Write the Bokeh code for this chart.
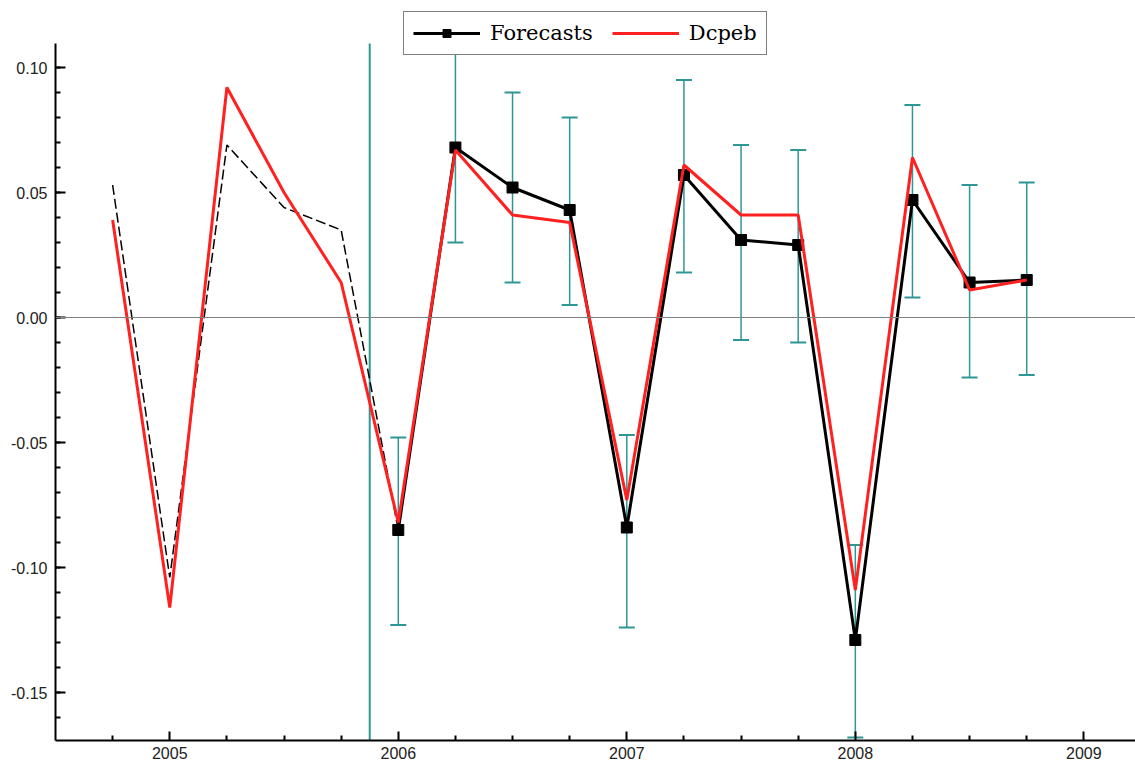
from bokeh.plotting import figure
from bokeh.models import (Range1d, FixedTicker, NumeralTickFormatter, Legend, LegendItem,
                          Whisker, ColumnDataSource, TeeHead, Span)
from bokeh.embed import file_html
from bokeh.resources import INLINE

# ---- data (quarterly, decimal years) ----
actual_x = [2004.75, 2005.0, 2005.25, 2005.5, 2005.75, 2006.0, 2006.25, 2006.5, 2006.75,
            2007.0, 2007.25, 2007.5, 2007.75, 2008.0, 2008.25, 2008.5, 2008.75]
dcpeb = [0.039, -0.116, 0.092, 0.050, 0.014, -0.082, 0.067, 0.041, 0.038,
         -0.073, 0.061, 0.041, 0.041, -0.109, 0.064, 0.011, 0.015]

fitted_x = [2004.75, 2005.0, 2005.25, 2005.5, 2005.75, 2006.0]
fitted = [0.053, -0.104, 0.069, 0.044, 0.035, -0.085]

forecast_x = [2006.0, 2006.25, 2006.5, 2006.75, 2007.0, 2007.25, 2007.5, 2007.75,
              2008.0, 2008.25, 2008.5, 2008.75]
forecasts = [-0.085, 0.068, 0.052, 0.043, -0.084, 0.057, 0.031, 0.029,
             -0.129, 0.047, 0.014, 0.015]
band_upper = [-0.048, 0.106, 0.090, 0.080, -0.047, 0.095, 0.069, 0.067,
              -0.091, 0.085, 0.053, 0.054]
band_lower = [-0.123, 0.030, 0.014, 0.005, -0.124, 0.018, -0.009, -0.010,
              -0.168, 0.008, -0.024, -0.023]

forecast_start = 2005.875

y_major = [-0.15, -0.10, -0.05, 0.0, 0.05, 0.10]
y_minor = [round(-0.16 + 0.01 * i, 2) for i in range(27)]
x_major = [2005, 2006, 2007, 2008, 2009]
x_minor = [2004.75, 2005.25, 2005.5, 2005.75, 2006.25, 2006.5, 2006.75, 2007.25, 2007.5,
           2007.75, 2008.25, 2008.5, 2008.75, 2009.25]

TEAL = "#2f9696"
RED = "#ff2020"

p = figure(width=1135, height=766, output_backend="svg", toolbar_location=None,
           x_range=Range1d(2004.5, 2009.226), y_range=Range1d(-0.1692, 0.1268),
           min_border_left=55, min_border_right=0, min_border_top=0, min_border_bottom=26)
p.outline_line_color = None
p.grid.visible = False
p.background_fill_color = "white"
p.border_fill_color = "white"

# axes
for ax in (p.xaxis[0], p.yaxis[0]):
    ax.axis_line_color = "black"
    ax.axis_line_width = 2
    ax.major_tick_line_color = "black"
    ax.major_tick_line_width = 2
    ax.minor_tick_line_color = "black"
    ax.minor_tick_line_width = 2
    ax.major_tick_out = 0
    ax.minor_tick_out = 0
    ax.major_label_text_font = "Liberation Sans"
    ax.major_label_text_font_size = "16px"
    ax.major_label_text_color = "#222222"

p.yaxis.ticker = FixedTicker(ticks=y_major, minor_ticks=y_minor)
p.yaxis.formatter = NumeralTickFormatter(format="0.00")
p.yaxis.bounds = (-0.1692, 0.1096)
p.yaxis.major_tick_in = 10
p.yaxis.minor_tick_in = 5
p.yaxis.major_label_standoff = 8

p.xaxis.ticker = FixedTicker(ticks=x_major, minor_ticks=x_minor)
p.xaxis.major_tick_in = 9
p.xaxis.minor_tick_in = 5
p.xaxis.major_label_standoff = 6

p.add_layout(Span(location=0, dimension="width", line_color="#808080", line_width=1))

# forecast start line
p.segment(x0=[forecast_start], y0=[-0.1692], x1=[forecast_start], y1=[0.1096],
          line_color=TEAL, line_width=2)

# error bands
band_src = ColumnDataSource(dict(x=forecast_x, upper=band_upper, lower=band_lower))
p.add_layout(Whisker(source=band_src, base="x", upper="upper", lower="lower",
                     line_color=TEAL, line_width=1.5,
                     upper_head=TeeHead(size=16, line_color=TEAL, line_width=2),
                     lower_head=TeeHead(size=16, line_color=TEAL, line_width=2)))

# fitted (dashed)
p.line(fitted_x, fitted, line_color="black", line_width=1.5, line_dash="10 4")

# forecasts
fl = p.line(forecast_x, forecasts, line_color="black", line_width=3)
fs = p.scatter(forecast_x, forecasts, marker="square", size=11, fill_color="black",
               line_color="black")

# actual
rl = p.line(actual_x, dcpeb, line_color=RED, line_width=3)

legend = Legend(items=[LegendItem(label="Forecasts", renderers=[fl, fs]),
                       LegendItem(label="Dcpeb", renderers=[rl])],
                orientation="horizontal", location=(348, 685))
legend.label_text_font = "DejaVu Serif"
legend.label_text_font_size = "21px"
legend.label_text_color = "black"
legend.border_line_color = "black"
legend.border_line_width = 1.5
legend.background_fill_color = "white"
legend.background_fill_alpha = 1
legend.padding = 9
legend.spacing = 19
legend.glyph_width = 67
legend.glyph_height = 20
legend.label_standoff = 10
legend.margin = 0
p.add_layout(legend)

open("out.html", "w").write(file_html(p, INLINE))
